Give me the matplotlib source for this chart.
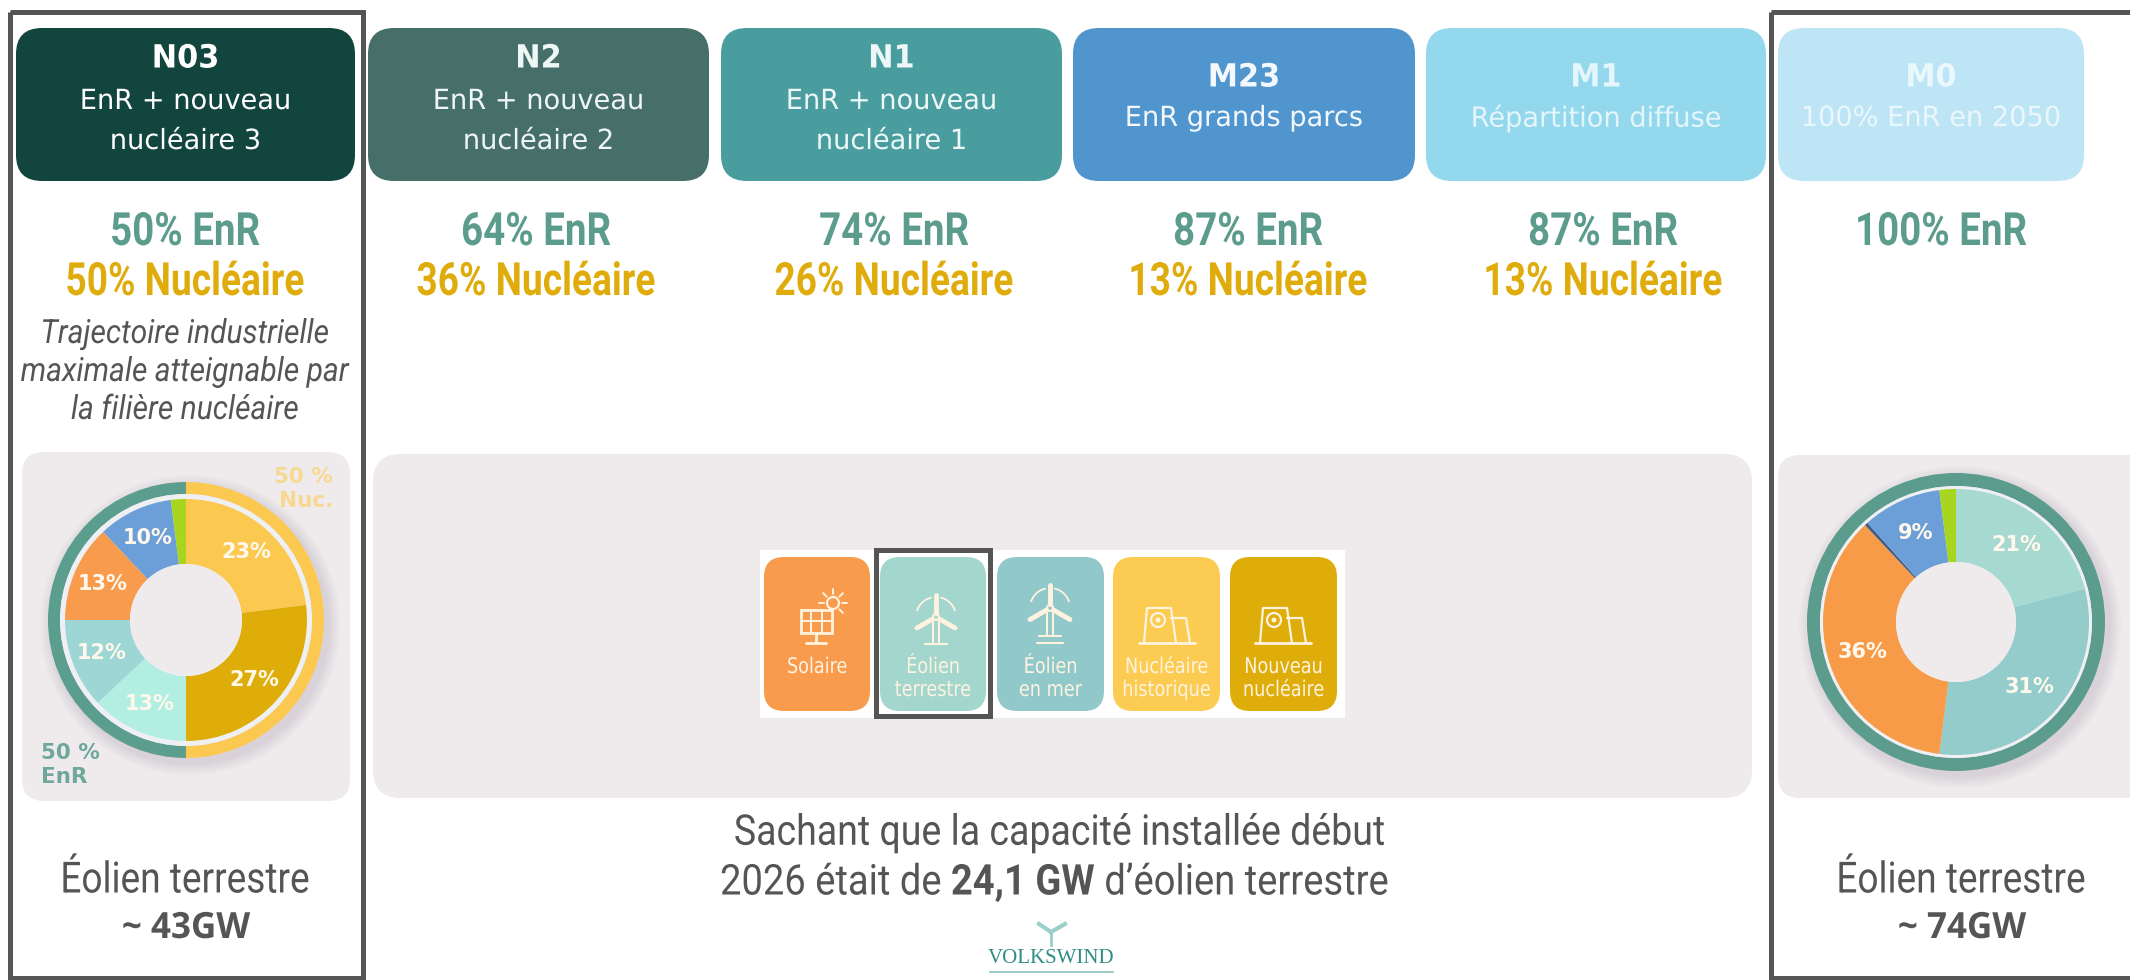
import matplotlib
matplotlib.use('Agg')
import matplotlib.pyplot as plt
from matplotlib.patches import FancyBboxPatch, Rectangle, Circle
from matplotlib.patheffects import AbstractPathEffect
from matplotlib.transforms import Affine2D
import numpy as np

W, H = 2130, 980

# scenarios
codes = ['N03', 'N2', 'N1', 'M23', 'M1', 'M0']
names = [['EnR + nouveau', 'nucléaire 3'], ['EnR + nouveau', 'nucléaire 2'], ['EnR + nouveau', 'nucléaire 1'],
         ['EnR grands parcs'], ['Répartition diffuse'], ['100% EnR en 2050']]
enr_share = [50, 64, 74, 87, 87, 100]
nuc_share = [50, 36, 26, 13, 13, None]
note_lines = ['Trajectoire industrielle', 'maximale atteignable par', 'la filière nucléaire']

# donuts
n03_values = [23, 27, 13, 12, 13, 10, 2]
n03_labels = ['23%', '27%', '13%', '12%', '13%', '10%', '']
n03_colors = ['#FCC950', '#DFAD0A', '#B2EEE2', '#9DD6D4', '#F99B4D', '#6C9FD8', '#A8D51E']
n03_ring = [50, 50]
n03_ring_colors = ['#FCC950', '#5C9E8E']

m0_values = [21, 31, 36, 0.4, 9.6, 2]
m0_labels = ['21%', '31%', '36%', '', '9%', '']
m0_colors = ['#A6D9CF', '#94CBCB', '#F89B48', '#3F5F86', '#6C9FD8', '#A8D51E']

legend_names = [['Solaire'], ['Éolien', 'terrestre'], ['Éolien', 'en mer'], ['Nucléaire', 'historique'], ['Nouveau', 'nucléaire']]
legend_colors = ['#F89B4D', '#A3D6CD', '#91C8C9', '#FCCB52', '#DFAD0A']

GRAY = '#555555'
PANEL = '#EFEBED'
GREEN = '#5B9C8C'
GOLD = '#DFAC0C'
ROBOTO = ['Roboto', 'DejaVu Sans']

header_x = [(16, 355), (368, 709), (721, 1062), (1073, 1415), (1426, 1766), (1778, 2084)]
header_colors = ['#12453D', '#466F69', '#4A9D9F', '#5095CD', '#94D8EE', '#BDE5F5']
header_text = ['white', '#EEF7F5', '#EEF7F7', '#F2F8FC', '#E4F5FB', '#EAF7FC']
share_x = [185, 536, 894, 1248, 1603, 1941]

fig = plt.figure(figsize=(W / 100, H / 100), dpi=100)
ax = fig.add_axes([0, 0, 1, 1])
ax.set_xlim(0, W)
ax.set_ylim(H, 0)
ax.axis('off')


# no condensed font installed: narrow the glyphs when they get drawn
class Squeeze(AbstractPathEffect):
    def __init__(self, k, cx):
        super().__init__()
        self.k = k
        self.cx = cx

    def draw_path(self, renderer, gc, tpath, affine, rgbFace=None):
        t = affine + Affine2D().translate(-self.cx, 0).scale(self.k, 1).translate(self.cx, 0)
        renderer.draw_path(gc, tpath, t, rgbFace)


def ntext(cx, y, s, size, k, color=GRAY, family=ROBOTO, z=6, **kw):
    return ax.text(cx, y, s, color=color, fontsize=size, family=family, ha='center', va='center', zorder=z,
                   path_effects=[Squeeze(k, cx)], **kw)


def rbox(x0, y0, x1, y1, r, color, z=1):
    ax.add_patch(FancyBboxPatch((x0 + r, y0 + r), x1 - x0 - 2 * r, y1 - y0 - 2 * r,
                                boxstyle='round,pad=%d,rounding_size=%d' % (r, r),
                                fc=color, ec='none', zorder=z))


# headers and shares
for i, code in enumerate(codes):
    x0, x1 = header_x[i]
    cx = (x0 + x1) / 2
    rbox(x0, 28, x1, 181, 26, header_colors[i])
    col = header_text[i]
    if len(names[i]) == 2:
        ntext(cx, 59, code, 23, 0.95, col, 'DejaVu Sans', fontweight='bold')
        ntext(cx, 101, names[i][0], 20, 0.98, col, 'DejaVu Sans')
        ntext(cx, 141, names[i][1], 20, 0.98, col, 'DejaVu Sans')
    else:
        ntext(cx, 78, code, 23, 0.95, col, 'DejaVu Sans', fontweight='bold')
        ntext(cx, 118, names[i][0], 20, 0.98, col, 'DejaVu Sans')
    ntext(share_x[i], 232, '%d%% EnR' % enr_share[i], 33, 0.84, GREEN, fontweight='bold')
    if nuc_share[i] is not None:
        ntext(share_x[i], 282, '%d%% Nucléaire' % nuc_share[i], 33, 0.81, GOLD, fontweight='bold')

for y, line in zip([334, 372, 410], note_lines):
    ntext(185, y, line, 24, 0.9, style='italic')

# grey panels
rbox(22, 452, 350, 801, 22, PANEL)
rbox(373, 454, 1752, 798, 28, PANEL)
rbox(1778, 455, 2150, 798, 22, PANEL)

# legend
ax.add_patch(Rectangle((760, 550), 585, 168, fc='white', ec='none', zorder=2))
tile_x = [(764, 870), (880, 986), (997, 1104), (1113, 1220), (1230, 1337)]
ICON = '#FFF3E0'


def seg(xs, ys, lw=2):
    ax.plot(xs, ys, color=ICON, lw=lw, solid_capstyle='round', zorder=4)


def turbine(cx, cy, s):
    ax.add_patch(Circle((cx, cy), 3, fc='none', ec=ICON, lw=1.5, zorder=4))
    for a in [90, 210, 330]:
        t = np.radians(a)
        seg([cx + 4 * np.cos(t), cx + s * np.cos(t)], [cy - 4 * np.sin(t), cy - s * np.sin(t)], lw=3.5)
    seg([cx - 3, cx - 3], [cy + 5, cy + s + 5], lw=1.5)
    seg([cx + 3, cx + 3], [cy + 5, cy + s + 5], lw=1.5)
    a = np.radians(np.linspace(20, 75, 12))
    for sx in [-1, 1]:
        ax.plot(cx + sx * 20 * np.cos(a), cy - 20 * np.sin(a), color=ICON, lw=1.3, zorder=4)
    seg([cx - 11, cx + 11], [cy + s + 5, cy + s + 5], lw=1.5)


def reactor(cx, cy):
    seg([cx - 28, cx + 28], [cy + 25, cy + 25], lw=2)
    seg([cx - 23, cx - 20, cx + 4, cx + 9], [cy + 25, cy - 10, cy - 10, cy + 25], lw=1.6)
    seg([cx + 4, cx + 19, cx + 23], [cy, cy, cy + 25], lw=1.6)
    ax.add_patch(Circle((cx - 9, cy + 2), 7, fc='none', ec=ICON, lw=1.6, zorder=4))
    ax.add_patch(Circle((cx - 9, cy + 2), 2.5, fc=ICON, ec='none', zorder=4))


for i, nm in enumerate(legend_names):
    x0, x1 = tile_x[i]
    cx = (x0 + x1) / 2
    rbox(x0, 557, x1, 711, 20, legend_colors[i], z=3)
    ys = [667] if len(nm) == 1 else [667, 690]
    for y, s in zip(ys, nm):
        ntext(cx, y, s, 15.5, 0.82, ICON, 'DejaVu Sans', z=4)

# solar icon
ax.add_patch(Rectangle((801, 610), 31, 23, fc='none', ec=ICON, lw=2, zorder=4))
seg([801, 832], [621, 621], 1.4)
seg([811, 811], [610, 633], 1.4)
seg([822, 822], [610, 633], 1.4)
seg([816, 816], [633, 643], 2)
seg([806, 826], [643, 643], 2)
ax.add_patch(Circle((833, 603), 6, fc='none', ec=ICON, lw=1.6, zorder=4))
for a in [0, 45, 90, 135, 180, 315]:
    t = np.radians(a)
    seg([833 + 9 * np.cos(t), 833 + 14 * np.cos(t)], [603 - 9 * np.sin(t), 603 - 14 * np.sin(t)], 1.4)
turbine(936, 617, 22)
turbine(1050, 608, 23)
seg([1037, 1063], [643, 643], 1.5)
reactor(1167, 618)
reactor(1283, 618)
ax.add_patch(Rectangle((876, 550), 114, 166, fc='none', ec=GRAY, lw=3.6, zorder=5))

# frames
ax.add_patch(Rectangle((9.5, 12.5), 353, 980, fc='none', ec=GRAY, lw=3.6, zorder=5))
ax.add_patch(Rectangle((1770.5, 12.5), 400, 980, fc='none', ec=GRAY, lw=3.6, zorder=5))
ax.plot([9.5, 362.5], [977.5, 977.5], color=GRAY, lw=3.6, zorder=5)
ax.plot([1770.5, W], [977.5, 977.5], color=GRAY, lw=3.6, zorder=5)


def donut(cx, cy, outer, width, values, colors, labels, label_r, ring_r, ring_w, ring_values, ring_colors):
    R = 180
    sub = fig.add_axes([(cx - R) / W, 1 - (cy + R) / H, 2 * R / W, 2 * R / H])
    sub.patch.set_alpha(0)
    for k in range(6):
        sub.add_patch(Circle((4, -5), ring_r + 12 - 2 * k, fc='#8A8090', ec='none', alpha=0.035, zorder=0))
    sub.pie(ring_values, radius=ring_r, colors=ring_colors, startangle=90, counterclock=False,
            wedgeprops={'width': ring_w, 'linewidth': 0})
    sub.add_patch(Circle((0, 0), ring_r - ring_w, fc='#EFF0F3', ec='none', zorder=1.5))
    wedges, _ = sub.pie(values, radius=outer, colors=colors, startangle=90, counterclock=False,
                        wedgeprops={'width': width, 'linewidth': 0, 'zorder': 2})
    sub.add_patch(Circle((0, 0), outer - width, fc=PANEL, ec='none', zorder=3))
    for w, lab in zip(wedges, labels):
        a = np.radians((w.theta1 + w.theta2) / 2)
        sub.text(label_r * np.cos(a), label_r * np.sin(a), lab, color='#FFF8EC', fontsize=15, fontweight='bold',
                 ha='center', va='center', family='DejaVu Sans', zorder=4)
    sub.set_xlim(-R, R)
    sub.set_ylim(-R, R)
    sub.set_aspect('equal')
    sub.axis('off')
    return sub


donut(186, 620, 121, 65, n03_values, n03_colors, n03_labels, 91, 138, 12, n03_ring, n03_ring_colors)
donut(1956, 622, 133, 73, m0_values, m0_colors, m0_labels, 98, 149, 13, [1], [GREEN])

ax.text(333, 477, '50 %', color='#F7D88F', fontsize=15.5, fontweight='bold', ha='right', va='center', family='DejaVu Sans', zorder=6)
ax.text(333, 501, 'Nuc.', color='#F7D88F', fontsize=15.5, fontweight='bold', ha='right', va='center', family='DejaVu Sans', zorder=6)
ax.text(41, 753, '50 %', color='#6FA79B', fontsize=15.5, fontweight='bold', ha='left', va='center', family='DejaVu Sans', zorder=6)
ax.text(41, 777, 'EnR', color='#6FA79B', fontsize=15.5, fontweight='bold', ha='left', va='center', family='DejaVu Sans', zorder=6)

# captions
for cx, val in [(185, '~ 43GW'), (1961, '~ 74GW')]:
    ntext(cx, 881, 'Éolien terrestre', 31, 0.86)
    ntext(cx + 1, 929, val, 26, 0.97, family='Open Sans', fontweight='bold')

ntext(1059, 833, 'Sachant que la capacité installée début', 30.5, 0.885)
parts = [('2026 était de ', 'normal'), ('24,1 GW', 'bold'), (' d’éolien terrestre', 'normal')]
fig.canvas.draw()
rend = fig.canvas.get_renderer()
objs = [ax.text(0, 883, s.replace(' ', '\u00a0'), color=GRAY, fontsize=30.5, fontweight=w, ha='left', va='center',
                family=ROBOTO, path_effects=[Squeeze(0.9, 1054)]) for s, w in parts]
widths = [o.get_window_extent(rend).width for o in objs]
x = 1054 - sum(widths) / 2
for o, wd in zip(objs, widths):
    o.set_x(x)
    x += wd

# logo
TEAL = '#2F8D84'
ax.text(1051, 958, 'VOLKSWIND', color=TEAL, fontsize=15, ha='center', va='center', family='Liberation Serif')
ax.plot([990, 1113], [972, 972], color='#8CC4BE', lw=1.2)
ax.plot([1051, 1051], [932, 945], color='#9CCFCA', lw=2)
ax.plot([1051, 1039], [932, 924], color='#9CCFCA', lw=3)
ax.plot([1051, 1065], [932, 924], color='#9CCFCA', lw=3)

fig.savefig('out.png', dpi=100)
